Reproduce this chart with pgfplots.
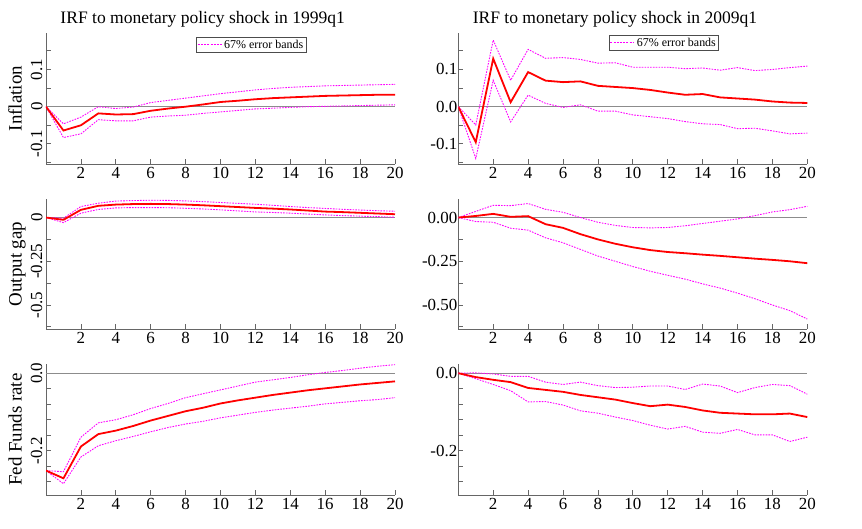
\documentclass[border=0pt]{standalone}
\usepackage{fontspec}
\setmainfont{Liberation Serif}
\usepackage{pgfplots}
\usepackage{pgfplotstable}
\pgfplotsset{compat=1.18}
\definecolor{irfred}{RGB}{255,0,0}
\definecolor{band}{RGB}{255,0,255}

\pgfplotstableread{
x red up lo
0 0 0 0
1 -0.064 -0.046 -0.083
2 -0.050 -0.028 -0.073
3 -0.018 0.000 -0.035
4 -0.021 -0.005 -0.038
5 -0.020 -0.001 -0.038
6 -0.011 0.011 -0.028
7 -0.005 0.017 -0.025
8 0.000 0.023 -0.023
9 0.006 0.029 -0.018
10 0.0126 0.035 -0.014
11 0.016 0.040 -0.010
12 0.020 0.045 -0.006
13 0.023 0.049 -0.004
14 0.025 0.052 -0.002
15 0.027 0.054 0.000
16 0.029 0.056 0.001
17 0.030 0.057 0.002
18 0.031 0.058 0.003
19 0.032 0.059 0.004
20 0.032 0.060 0.005
}\infA

\pgfplotstableread{
x red up lo
0 0 0 0
1 -0.0955 -0.049 -0.139
2 0.129 0.179 0.071
3 0.012 0.071 -0.041
4 0.093 0.154 0.031
5 0.070 0.130 0.009
6 0.066 0.132 -0.002
7 0.068 0.127 0.005
8 0.056 0.117 -0.012
9 0.053 0.118 -0.012
10 0.050 0.106 -0.022
11 0.045 0.106 -0.027
12 0.038 0.106 -0.032
13 0.032 0.102 -0.040
14 0.034 0.104 -0.046
15 0.025 0.098 -0.048
16 0.022 0.105 -0.059
17 0.019 0.097 -0.058
18 0.014 0.100 -0.065
19 0.011 0.105 -0.073
20 0.010 0.109 -0.071
}\infB

\pgfplotstableread{
x red up lo
0 0 0 0
1 -0.013 -0.004 -0.029
2 0.044 0.063 0.025
3 0.067 0.082 0.046
4 0.074 0.094 0.055
5 0.077 0.097 0.057
6 0.078 0.099 0.057
7 0.077 0.098 0.056
8 0.074 0.095 0.053
9 0.070 0.091 0.049
10 0.065 0.086 0.044
11 0.060 0.081 0.038
12 0.055 0.076 0.032
13 0.051 0.070 0.029
14 0.046 0.063 0.025
15 0.040 0.057 0.020
16 0.034 0.052 0.015
17 0.031 0.047 0.011
18 0.027 0.043 0.008
19 0.023 0.039 0.005
20 0.019 0.036 0.002
}\gapA

\pgfplotstableread{
x red up lo
0 0 0 0
1 0.009 0.035 -0.023
2 0.021 0.070 -0.027
3 0.004 0.068 -0.061
4 0.008 0.080 -0.072
5 -0.038 0.047 -0.116
6 -0.059 0.030 -0.144
7 -0.095 0.000 -0.182
8 -0.125 -0.027 -0.220
9 -0.150 -0.045 -0.250
10 -0.170 -0.057 -0.280
11 -0.186 -0.059 -0.307
12 -0.197 -0.057 -0.330
13 -0.204 -0.047 -0.352
14 -0.212 -0.034 -0.379
15 -0.219 -0.021 -0.403
16 -0.227 -0.008 -0.432
17 -0.235 0.011 -0.464
18 -0.242 0.032 -0.500
19 -0.250 0.045 -0.532
20 -0.261 0.064 -0.580
}\gapB

\pgfplotstableread{
x red up lo
0 -0.251 -0.251 -0.251
1 -0.271 -0.254 -0.285
2 -0.189 -0.165 -0.216
3 -0.157 -0.128 -0.187
4 -0.148 -0.120 -0.174
5 -0.136 -0.107 -0.163
6 -0.122 -0.091 -0.151
7 -0.110 -0.078 -0.140
8 -0.098 -0.063 -0.131
9 -0.089 -0.053 -0.124
10 -0.078 -0.043 -0.115
11 -0.070 -0.033 -0.108
12 -0.063 -0.023 -0.101
13 -0.056 -0.017 -0.095
14 -0.050 -0.011 -0.090
15 -0.044 -0.004 -0.085
16 -0.039 0.002 -0.079
17 -0.034 0.007 -0.075
18 -0.029 0.013 -0.071
19 -0.025 0.018 -0.068
20 -0.021 0.022 -0.063
}\ffA

\pgfplotstableread{
x red up lo
0 0 0 0
1 -0.010 0.001 -0.014
2 -0.017 -0.002 -0.029
3 -0.023 -0.008 -0.045
4 -0.038 -0.008 -0.074
5 -0.043 -0.023 -0.073
6 -0.048 -0.029 -0.082
7 -0.056 -0.023 -0.097
8 -0.062 -0.032 -0.103
9 -0.068 -0.037 -0.113
10 -0.077 -0.036 -0.122
11 -0.085 -0.033 -0.134
12 -0.081 -0.033 -0.144
13 -0.087 -0.042 -0.137
14 -0.096 -0.028 -0.152
15 -0.102 -0.033 -0.155
16 -0.104 -0.050 -0.145
17 -0.106 -0.037 -0.159
18 -0.106 -0.029 -0.159
19 -0.104 -0.032 -0.176
20 -0.113 -0.054 -0.165
}\ffB

\pgfplotsset{
  redline/.style={irfred, line width=1.8bp},
  bandline/.style={band, line width=0.9bp, dash pattern=on 1.6bp off 1.2bp},
  zeroline/.style={black!45, line width=0.8bp, forget plot},
  irf/.style={
    scale only axis, width=349bp,
    xmin=0, xmax=20,
    axis x line*=bottom, axis y line*=left,
    axis line style={black!60, line width=0.8bp},
    tick align=inside,
    major tick length=5bp, minor tick length=5bp,
    tick style={black!60, line width=0.8bp},
    xtick={2,4,...,20},
    /pgf/number format/assume math mode=true,
    ticklabel style={font=\fontsize{17}{17}\selectfont},
    title style={font=\fontsize{17.6}{17.6}\selectfont, at={(rel axis cs:0.449,1)}, anchor=base, yshift=3.5bp},
    every axis y label/.style={at={(rel axis cs:0,0.5)}, xshift=-24.3bp, rotate=90, anchor=base, font=\fontsize{19}{19}\selectfont},
    legend image code/.code={\draw[band, line width=1bp, dash pattern=on 2bp off 1.2bp] (0bp,0bp) -- (24bp,0bp);},
    legend style={draw=black!70, line width=0.6bp, inner sep=0.6bp, font=\fontsize{12}{12}\selectfont, legend cell align=left},
  },
  leftcol/.style={yticklabel style={rotate=90, anchor=south}},
  rightcol/.style={yticklabel style={xshift=2.5bp}},
  rowA/.style={height=131bp, ymin=-0.154, ymax=0.198, ytick={-0.1,0,0.1}, minor ytick={-0.15,-0.05,0.05,0.15}},
  rowB/.style={height=130bp, ymin=-0.637, ymax=0.106, ytick={-0.5,-0.25,0}, minor ytick={-0.625,-0.375,-0.125}},
  rowC/.style={height=130.7bp, ymin=-0.314, ymax=0.023, ytick={-0.2,0}, minor ytick={-0.28,-0.24,-0.16,-0.12,-0.08,-0.04}},
}

\begin{document}
\begin{tikzpicture}
\path[use as bounding box] (0,0) rectangle (862bp,529bp);

% Row 1 left
\begin{axis}[irf, leftcol, rowA, at={(46bp,365bp)}, anchor=south west,
  title={IRF to monetary policy shock in 1999q1}, ylabel={Inflation},
  yticklabels={-0.1,0,0.1},
  legend style={at={(rel axis cs:0.588,0.968)}, anchor=north}]
\addplot[zeroline] coordinates {(0,0) (20,0)};
\addplot[bandline] table[x=x,y=up] {\infA};
\addlegendentry{67\% error bands}
\addplot[bandline, forget plot] table[x=x,y=lo] {\infA};
\addplot[redline, forget plot] table[x=x,y=red] {\infA};
\end{axis}

% Row 1 right
\begin{axis}[irf, rightcol, rowA, at={(458.3bp,365bp)}, anchor=south west,
  title={IRF to monetary policy shock in 2009q1},
  yticklabels={-0.1,0.0,0.1},
  legend style={at={(rel axis cs:0.589,0.985)}, anchor=north}]
\addplot[zeroline] coordinates {(0,0) (20,0)};
\addplot[bandline] table[x=x,y=up] {\infB};
\addlegendentry{67\% error bands}
\addplot[bandline, forget plot] table[x=x,y=lo] {\infB};
\addplot[redline, forget plot] table[x=x,y=red] {\infB};
\end{axis}

% Row 2 left
\begin{axis}[irf, leftcol, rowB, at={(46bp,200bp)}, anchor=south west,
  ylabel={Output gap},
  yticklabels={-0.5,-0.25,0}]
\addplot[zeroline] coordinates {(0,0) (20,0)};
\addplot[bandline] table[x=x,y=up] {\gapA};
\addplot[bandline] table[x=x,y=lo] {\gapA};
\addplot[redline] table[x=x,y=red] {\gapA};
\end{axis}

% Row 2 right
\begin{axis}[irf, rightcol, rowB, at={(458.3bp,200bp)}, anchor=south west,
  yticklabels={-0.50,-0.25,0.00}]
\addplot[zeroline] coordinates {(0,0) (20,0)};
\addplot[bandline] table[x=x,y=up] {\gapB};
\addplot[bandline] table[x=x,y=lo] {\gapB};
\addplot[redline] table[x=x,y=red] {\gapB};
\end{axis}

% Row 3 left
\begin{axis}[irf, leftcol, rowC, at={(46bp,34bp)}, anchor=south west,
  ylabel={Fed Funds rate},
  yticklabels={-0.2,0.0}]
\addplot[zeroline] coordinates {(0,0) (20,0)};
\addplot[bandline] table[x=x,y=up] {\ffA};
\addplot[bandline] table[x=x,y=lo] {\ffA};
\addplot[redline] table[x=x,y=red] {\ffA};
\end{axis}

% Row 3 right
\begin{axis}[irf, rightcol, rowC, at={(458.3bp,34bp)}, anchor=south west,
  yticklabels={-0.2,0.0}]
\addplot[zeroline] coordinates {(0,0) (20,0)};
\addplot[bandline] table[x=x,y=up] {\ffB};
\addplot[bandline] table[x=x,y=lo] {\ffB};
\addplot[redline] table[x=x,y=red] {\ffB};
\end{axis}
\end{tikzpicture}
\end{document}
